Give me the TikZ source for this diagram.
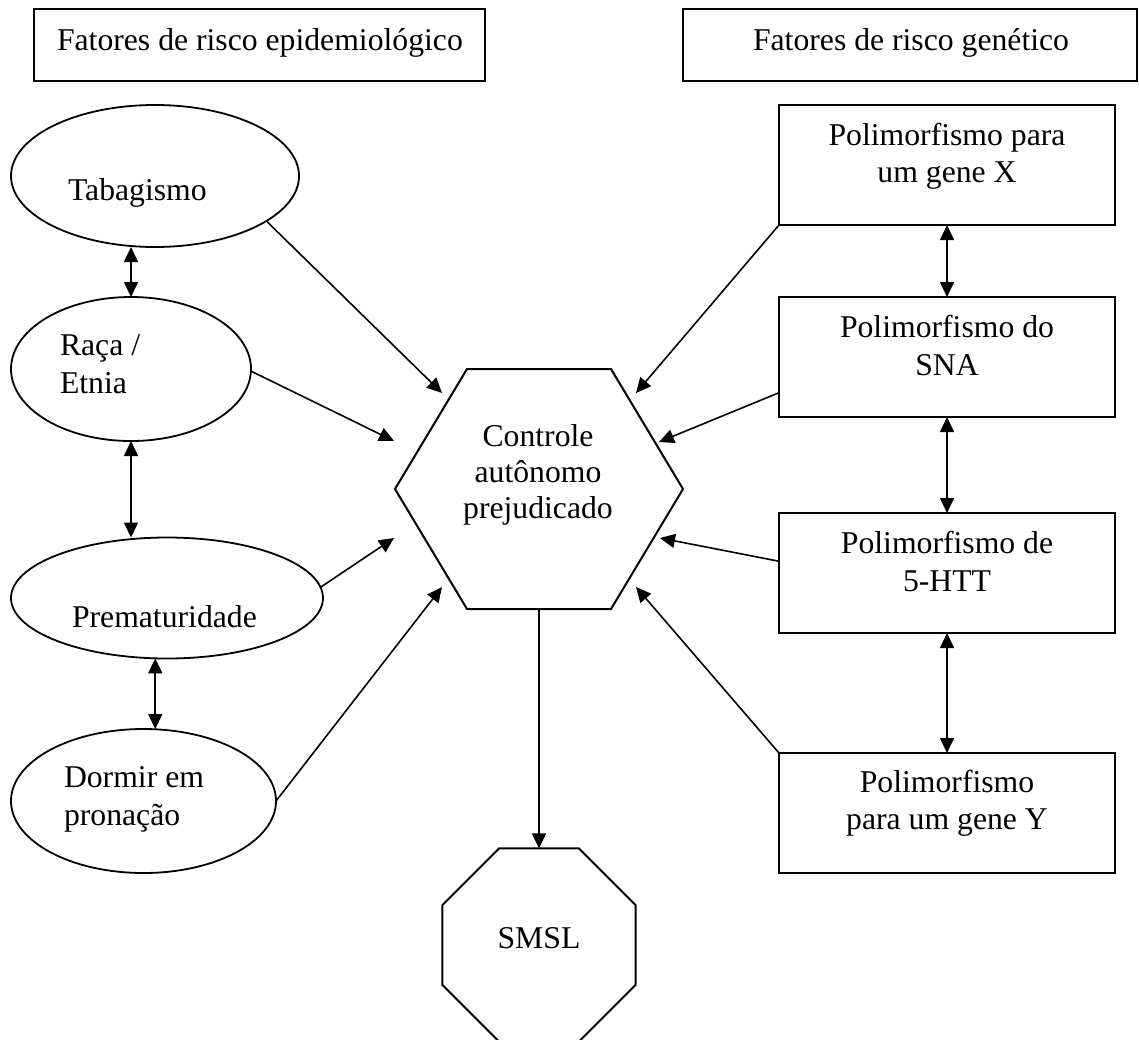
\documentclass[tikz,border=0pt]{standalone}
\usepackage{fontspec}
\setmainfont{Liberation Serif}
\usetikzlibrary{arrows.meta,shapes.geometric}
\begin{document}
\begin{tikzpicture}[x=1pt,y=-1pt,
  every node/.style={inner sep=0pt, outer sep=0pt},
  txt/.style={anchor=base, font=\fontsize{31.7}{36.5}\selectfont},
  txtl/.style={txt, anchor=base west},
  frame/.style={draw, line width=2.2pt, rectangle, inner sep=0pt},
  oval/.style={draw, line width=1.8pt, ellipse, inner sep=0pt},
  tipk/.tip={Triangle[length=15pt,width=14pt]},
  conn/.style={line width=1.6pt, -tipk},
  dconn/.style={line width=1.6pt, tipk-tipk},
]
\useasboundingbox (0,0) rectangle (1139,1039);

% headers
\node[frame, minimum width=451pt, minimum height=72pt] (hdrL) at (259.5,45) {};
\node[txtl] (hdrLT) at (57,50) {Fatores de risco epidemiológico};
\node[frame, minimum width=454pt, minimum height=72pt] (hdrR) at (910,45) {};
\node[txt] (hdrRT) at (911,50) {Fatores de risco genético};

% ellipses
\node[oval, minimum width=288pt, minimum height=142pt] (tab) at (155,176) {};
\node[txtl] (tabT) at (68,200) {Tabagismo};
\node[oval, minimum width=240pt, minimum height=144pt] (raca) at (131,369) {};
\node[txtl] (racaT1) at (60,355) {Raça /};
\node[txtl] (racaT2) at (60,393) {Etnia};
\node[oval, minimum width=312pt, minimum height=121pt] (prem) at (167,598) {};
\node[txtl] (premT) at (72,627) {Prematuridade};
\node[oval, minimum width=265pt, minimum height=144pt] (dorm) at (143.5,801) {};
\node[txtl] (dormT1) at (64,787) {Dormir em};
\node[txtl] (dormT2) at (64,825) {pronação};

% right boxes
\node[frame, minimum width=336pt, minimum height=120pt] (bx) at (947,165) {};
\node[txt] (bxT1) at (947,145) {Polimorfismo para};
\node[txt] (bxT2) at (947,182) {um gene X};
\node[frame, minimum width=336pt, minimum height=120pt] (bsna) at (947,357) {};
\node[txt] (bsnaT1) at (947,337) {Polimorfismo do};
\node[txt] (bsnaT2) at (947,375) {SNA};
\node[frame, minimum width=336pt, minimum height=120pt] (bhtt) at (947,573) {};
\node[txt] (bhttT1) at (947,553) {Polimorfismo de};
\node[txt] (bhttT2) at (947,591) {5-HTT};
\node[frame, minimum width=336pt, minimum height=120pt] (by) at (947,813) {};
\node[txt] (byT1) at (947,792) {Polimorfismo};
\node[txt] (byT2) at (947,829) {para um gene Y};

% hexagon
\coordinate (hL) at (395,489);
\coordinate (hTL) at (467,369);
\coordinate (hTR) at (611,369);
\coordinate (hR) at (683,489);
\coordinate (hBR) at (611,609);
\coordinate (hBL) at (467,609);
\coordinate (hB) at (539,609);
\draw[line width=2pt, line join=miter] (hL) -- (hTL) -- (hTR) -- (hR) -- (hBR) -- (hBL) -- cycle;
\node[txt] (hexT1) at (538,446) {Controle};
\node[txt] (hexT2) at (538,482) {autônomo};
\node[txt] (hexT3) at (538,518) {prejudicado};

% tip points at the hexagon
\coordinate (t1) at (442,393);
\coordinate (t2) at (394,441);
\coordinate (t3) at (394,538);
\coordinate (t4) at (442,587);
\coordinate (t5) at (636,393);
\coordinate (t6) at (659,442);
\coordinate (t7) at (660,538);
\coordinate (t8) at (636,587);

% octagon
\node[draw, line width=2pt, regular polygon, regular polygon sides=8, minimum size=209pt] (smsl) at (539,945) {};
\node[txt] (smslT) at (539,948) {SMSL};

% connectors
\draw[dconn] (tab.south -| raca.north) -- (raca.north);
\draw[dconn] (raca.south) -- (raca.south |- prem.north);
\draw[dconn] (prem.-101) -- (prem.-101 |- dorm.north);
\draw[dconn] (bx) -- (bsna);
\draw[dconn] (bsna) -- (bhtt);
\draw[dconn] (bhtt) -- (by);

\draw[conn] (tab.-22.2) -- (t1);
\draw[conn] (raca.-1) -- (t2);
\draw[conn] (prem.4.8) -- (t3);
\draw[conn] (dorm.0.4) -- (t4);
\draw[conn] (bx.south west) -- (t5);
\draw[conn] (bsna.192.1) -- (t6);
\draw[conn] (bhtt.176.3) -- (t7);
\draw[conn] (by.north west) -- (t8);
\draw[conn] (hB) -- (smsl.north);
\end{tikzpicture}
\end{document}
